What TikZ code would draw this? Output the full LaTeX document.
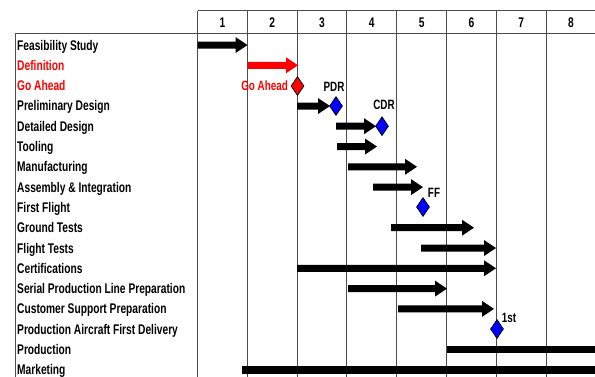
\documentclass[tikz,border=0pt]{standalone}
\usepackage{fontspec}
\setmainfont{Liberation Sans}[FakeStretch=0.73]
\usetikzlibrary{shapes.geometric}
\newcommand\gbar[4][black]{\fill[#1] (#2,{#4-3.5}) -- ({#3-12},{#4-3.5}) -- ({#3-12},{#4-8}) -- (#3,#4) -- ({#3-12},{#4+8}) -- ({#3-12},{#4+3.5}) -- (#2,{#4+3.5}) -- cycle;}
\begin{document}
\begin{tikzpicture}[x=1pt,y=-1pt,
  grid/.style={draw=black!70, line width=1pt},
  lab/.style={anchor=base west, inner sep=0pt, font=\fontsize{14}{16}\selectfont\bfseries},
  num/.style={inner sep=0pt, font=\fontsize{14}{16}\selectfont\bfseries},
  ms/.style={diamond, draw=black, line width=0.7pt, fill=blue, minimum width=13pt, minimum height=19pt, inner sep=0pt},
  mslab/.style={anchor=base, inner sep=0pt, font=\fontsize{13.5}{16}\selectfont\bfseries}]
\useasboundingbox (0,0) rectangle (595,376);
\fill[white] (0,0) rectangle (595,376);
% grid
\foreach \i in {0,...,8} \draw[grid] ({197.5+49.8*\i},10.5) -- ({197.5+49.8*\i},377);
\draw[grid] (197.5,10.5) -- (597,10.5);
\draw[grid] (15,33) -- (597,33);
\draw[grid] (15,33) -- (15,377);
\foreach \i in {1,...,8} \node[num] (h\i) at ({197.5+49.8*(\i-0.5)},22.5) {\i};
% labels
\node[lab] (l0) at (17,50) {Feasibility Study};
\node[lab,red] (l1) at (17,70.3) {Definition};
\node[lab,red] (l2) at (17,90.6) {Go Ahead};
\node[lab] (l3) at (17,110.9) {Preliminary Design};
\node[lab] (l4) at (17,131.2) {Detailed Design};
\node[lab] (l5) at (17,151.5) {Tooling};
\node[lab] (l6) at (17,171.8) {Manufacturing};
\node[lab] (l7) at (17,192.1) {Assembly \& Integration};
\node[lab] (l8) at (17,212.4) {First Flight};
\node[lab] (l9) at (17,232.7) {Ground Tests};
\node[lab] (l10) at (17,253) {Flight Tests};
\node[lab] (l11) at (17,273.3) {Certifications};
\node[lab] (l12) at (17,293.6) {Serial Production Line Preparation};
\node[lab] (l13) at (17,313.9) {Customer Support Preparation};
\node[lab] (l14) at (17,334.2) {Production Aircraft First Delivery};
\node[lab] (l15) at (17,354.5) {Production};
\node[lab] (l16) at (17,374.8) {Marketing};
% bars
\gbar{197.5}{247.5}{45}
\gbar[red]{247.5}{298}{65.3}
\gbar{297}{330}{106}
\gbar{336}{376}{126.2}
\gbar{337}{377}{146.5}
\gbar{348}{417}{166.8}
\gbar{373}{423}{187.1}
\gbar{391}{474}{227.7}
\gbar{421}{496}{248}
\gbar{297}{496}{268.3}
\gbar{348}{447}{288.6}
\gbar{398}{494}{308.9}
\fill (447,345.7) rectangle (597,353.1);
\fill (242,366.2) rectangle (597,373.6);
% milestones
\node[ms,fill=red] (ga) at (297.5,86) {};
\node[mslab,red,anchor=base east] (gal) at (288,90.5) {Go Ahead};
\node[ms] (pdr) at (336,106) {};
\node[mslab] (pdrl) at (334,91) {PDR};
\node[ms] (cdr) at (382,126.2) {};
\node[mslab] (cdrl) at (384,109.5) {CDR};
\node[ms] (ff) at (423,207) {};
\node[mslab] (ffl) at (434,197) {FF};
\node[ms] (fst) at (497,329) {};
\node[mslab] (fstl) at (509,322) {1st};
\end{tikzpicture}
\end{document}
